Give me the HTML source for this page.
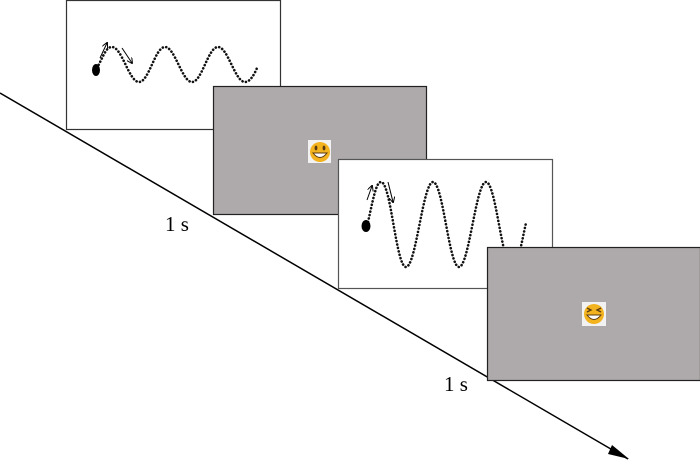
<!DOCTYPE html>
<html><head><style>body{margin:0;background:#fff}svg{display:block}</style></head>
<body>
<svg width="700" height="462" viewBox="0 0 700 462" xmlns="http://www.w3.org/2000/svg">
<defs>
<marker id="sa" markerWidth="6" markerHeight="6" refX="5" refY="3" orient="auto" markerUnits="userSpaceOnUse"><path d="M0,0 L6,3 L0,6" fill="none" stroke="#000" stroke-width="1"/></marker>
</defs>
<line x1="0" y1="93" x2="628" y2="459" stroke="#000" stroke-width="1.5"/>
<path d="M612,445 L629,459 L608,454 z" fill="#000"/>

<rect x="66.5" y="0.5" width="214" height="129" fill="#fff" stroke="#333" stroke-width="1.2"/>
<g fill="none" stroke="#111" stroke-width="2.6" stroke-dasharray="0.1 3.4" stroke-linecap="round">
<path d="M97,68 C104,55 106,47 112,47 C122,47 129,82 139,82 C149,82 155,47 165,47 C175,47 182,82 192,82 C202,82 208,47 218,47 C228,47 235,82 245,82 C250,82 254,75 257,68"/>
</g>
<ellipse cx="96" cy="70" rx="4" ry="6" fill="#000"/>
<line x1="100" y1="58" x2="107" y2="43" stroke="#000" stroke-width="1" marker-end="url(#sa)"/>
<line x1="122" y1="48" x2="132" y2="63" stroke="#000" stroke-width="1" marker-end="url(#sa)"/>

<rect x="213.5" y="86.5" width="213" height="128" fill="#aeaaab" stroke="#222" stroke-width="1.2"/>
<rect x="308" y="140" width="23" height="23" fill="#f2f2f2"/>
<circle cx="320" cy="152" r="10" fill="#f2b31e"/>
<ellipse cx="316" cy="148" rx="1.4" ry="2.4" fill="#5a3a10"/>
<ellipse cx="324" cy="148" rx="1.4" ry="2.4" fill="#5a3a10"/>
<path d="M313,153 Q320,162 327,153 z" fill="#fff" stroke="#5a3a10" stroke-width="1"/>

<rect x="338.5" y="159.5" width="214" height="129" fill="#fff" stroke="#555" stroke-width="1.2"/>
<g fill="none" stroke="#111" stroke-width="2.6" stroke-dasharray="0.1 3.4" stroke-linecap="round">
<path d="M368,222 C373,200 376,182 381,182 C391,182 396,267 406,267 C416,267 423,182 433,182 C443,182 449,267 459,267 C469,267 476,182 486,182 C496,182 502,267 512,267 C518,267 522,240 526,223"/>
</g>
<ellipse cx="366" cy="226" rx="4.5" ry="6" fill="#000"/>
<line x1="367" y1="200" x2="372" y2="186" stroke="#000" stroke-width="1" marker-end="url(#sa)"/>
<line x1="388" y1="182" x2="393" y2="202" stroke="#000" stroke-width="1" marker-end="url(#sa)"/>

<rect x="487.5" y="247.5" width="213" height="133" fill="#aeaaab" stroke="#222" stroke-width="1.2"/>
<rect x="582" y="302" width="24" height="24" fill="#f2f2f2"/>
<circle cx="594" cy="314" r="10" fill="#f2b31e"/>
<path d="M587,308 L591,310 L587,312 M601,308 L597,310 L601,312" fill="none" stroke="#5a3a10" stroke-width="1.3"/>
<path d="M587,315 Q594,324 601,315 z" fill="#fff" stroke="#5a3a10" stroke-width="1"/>

<text x="165" y="231" font-family="Liberation Serif, serif" font-size="21">1 s</text>
<text x="444" y="391" font-family="Liberation Serif, serif" font-size="21">1 s</text>
</svg>
</body></html>
